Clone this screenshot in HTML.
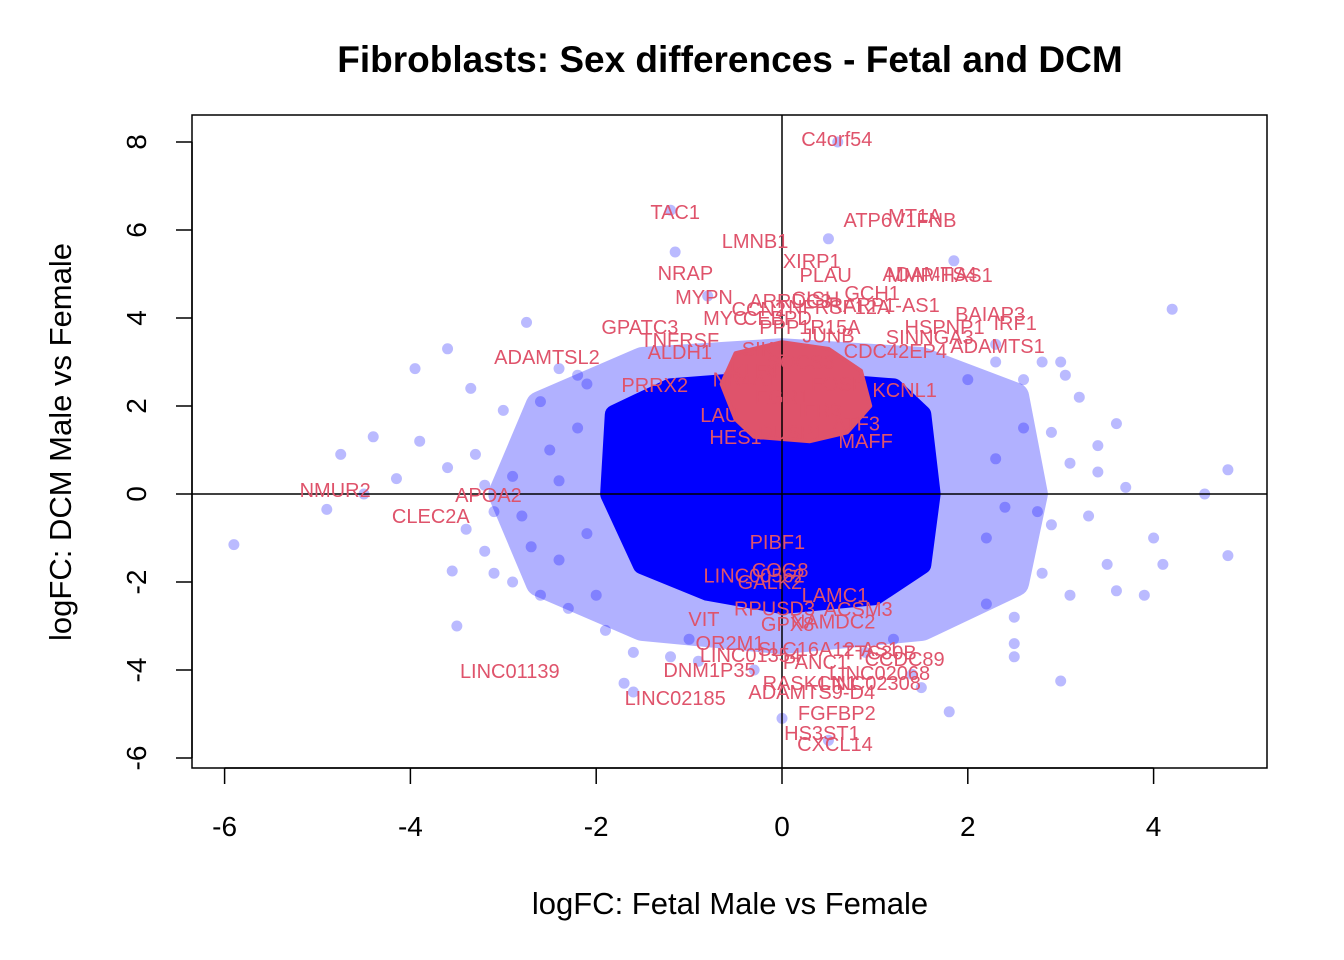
<!DOCTYPE html>
<html><head><meta charset="utf-8">
<style>
html,body{margin:0;padding:0;background:#fff;}
svg{display:block;font-family:"Liberation Sans",Arial,sans-serif;}
</style></head>
<body>
<svg id="chart" width="1344" height="960" viewBox="0 0 1344 960" xmlns="http://www.w3.org/2000/svg">
<text x="730" y="72" text-anchor="middle" font-size="37" font-weight="bold">Fibroblasts: Sex differences - Fetal and DCM</text>
<text x="730" y="914" text-anchor="middle" font-size="31">logFC: Fetal Male vs Female</text>
<text transform="translate(71,442) rotate(-90)" text-anchor="middle" font-size="31">logFC: DCM Male vs Female</text>
<g id="halo" opacity="0.3"></g>
<g id="points"></g>
<g id="core"></g>
<g id="redcore"></g>
<g id="axes"></g>
<g id="labels"></g>
<rect x="192" y="115" width="1075" height="653" fill="none" stroke="#000" stroke-width="1.5"/>
</svg>
<script>
const xTicks = [-6, -4, -2, 0, 2, 4];
const yTicks = [-6, -4, -2, 0, 2, 4, 6, 8];
const outlierX = [-5.9,-4.9,-4.75,-4.5,-4.4,-4.15,-3.95,-3.9,-3.6,-3.55,-3.5,-3.35,-3.3,-3.1,-3.0,-2.75,-2.9,-2.6,-2.4,-2.2,-2.1,-1.7,-1.6,-1.2,-1.15,-0.8,0.5,0.6,1.85,4.2,4.8,4.55,4.8,4.1,3.9,4.0,3.7,3.4,3.2,3.0,2.8,3.0,1.8,0.0,0.5,1.5,2.5,2.5,3.3,3.1,2.8,3.5,3.6,2.6,2.3,2.0,-2.0,-2.4,-2.8,-3.1,-3.4,-3.2,-2.7,-3.2,-3.6,-2.9,-2.5,-2.3,-1.9,-1.6,-1.2,-0.9,2.2,2.5,2.9,3.4,3.1,2.9,3.6,3.05,2.3,2.6,-2.2,-2.4,-2.1,2.3,2.2,2.4,1.4,-0.3,0.9,-1.0,1.2,-2.6,2.75];
const outlierY = [-1.15,-0.35,0.9,0.0,1.3,0.35,2.85,1.2,3.3,-1.75,-3.0,2.4,0.9,-1.8,1.9,3.9,-2.0,2.1,2.85,2.7,2.5,-4.3,-4.5,6.45,5.5,4.5,5.8,8.0,5.3,4.2,0.55,0.0,-1.4,-1.6,-2.3,-1.0,0.15,1.1,2.2,3.0,3.0,-4.25,-4.95,-5.1,-5.6,-4.4,-3.7,-3.4,-0.5,-2.3,-1.8,-1.6,-2.2,2.6,3.4,2.6,-2.3,-1.5,-0.5,-0.4,-0.8,-1.3,-1.2,0.2,0.6,0.4,1.0,-2.6,-3.1,-3.6,-3.7,-3.8,-2.5,-2.8,1.4,0.5,0.7,-0.7,1.6,2.7,3.0,1.5,1.5,0.3,-0.9,0.8,-1.0,-0.3,-4.1,-4.0,-3.6,-3.3,-3.3,-2.3,-0.4];
const haloX = [-2.6,-1.5,0,1.5,2.5,2.7,2.5,1.5,0,-1.5,-2.6,-3.0];
const haloY = [2.0,3.0,3.2,3.0,2.2,0,-2.0,-3.0,-3.3,-3.0,-2.0,0];
const coreX = [-1.8,-1.2,0,1.2,1.5,1.6,1.5,1.0,0,-0.8,-1.5,-1.85];
const coreY = [1.8,2.4,2.6,2.4,1.8,0,-1.6,-2.3,-2.5,-2.2,-1.6,0];
const redX = [-0.5,0,0.5,0.85,0.95,0.7,0.3,-0.3,-0.5,-0.65];
const redY = [3.2,3.45,3.3,2.8,2.0,1.4,1.2,1.3,1.7,2.5];
const labelText = ["C4orf54","TAC1","ATP6V1FNB","MT1A","LMNB1","XIRP1","NRAP","PLAU","ADAMTS4","MMP-HAS1","MYPN","GCH1","ARRDC3","CISH","TNFRSF12A","CCN2","RARP1-AS1","CEBPD","BAIAP3","IRF1","GPATC3","TNFRSF","ADAMTS1","ADAMTSL2","ALDH1","MYC","SINNGA3","HSPNP1","CDC42EP4","PRRX2","KCNL1","LAU","NMUR2","APOA2","CLEC2A","PIBF1","COG8","LINC00562","GALK2","LAMC1","RPUSD3","ACSM3","VIT","GPX8","NAMDC2","OR2M1","LINC01354","SLC16A12-AS1","PANC1","CCDC89","TTC30B","DNM1P35","LINC01139","LINC02068","RASKCN1","LINC02308","ADAMTS9-D4","LINC02185","FGFBP2","HS3ST1","CXCL14","SOCS3","KLF4","FOSB","EGR1","IER3","NR4A1","ATF3","DUSP1","JUNB","HES1","MAFF","SIK1","PPP1R15A"];
const labelX = [0.59,-1.15,1.27,1.43,-0.29,0.32,-1.04,0.47,1.59,1.7,-0.84,0.97,0.09,0.36,0.55,-0.25,1.1,-0.05,2.24,2.51,-1.53,-1.1,2.32,-2.53,-1.1,-0.61,1.59,1.75,1.22,-1.37,1.32,-0.67,-4.81,-3.16,-3.78,-0.05,-0.02,-0.3,-0.13,0.57,-0.08,0.82,-0.84,0.06,0.55,-0.56,-0.34,0.5,0.36,1.32,1.05,-0.78,-2.93,1.05,0.3,0.95,0.32,-1.15,0.59,0.43,0.57,0.2,-0.3,0.6,0.0,0.4,-0.4,0.8,0.1,0.5,-0.5,0.9,-0.2,0.3];
const labelY = [8.07,6.41,6.23,6.32,5.75,5.3,5.02,4.98,5.0,4.98,4.48,4.57,4.39,4.44,4.25,4.2,4.3,4.0,4.09,3.89,3.8,3.5,3.36,3.11,3.23,4.0,3.57,3.8,3.25,2.48,2.36,1.8,0.09,-0.02,-0.5,-1.09,-1.73,-1.85,-2.0,-2.3,-2.6,-2.61,-2.84,-2.95,-2.9,-3.39,-3.66,-3.52,-3.82,-3.75,-3.6,-4.0,-4.02,-4.07,-4.3,-4.3,-4.5,-4.64,-4.98,-5.43,-5.68,3.0,2.8,2.5,2.2,1.9,2.6,1.6,1.4,3.6,1.3,1.2,3.3,3.8];

const X0=782, XS=92.9, Y0=494, YS=44;
const sx = v => X0 + v*XS;
const sy = v => Y0 - v*YS;
const NS="http://www.w3.org/2000/svg";
function mk(tag, parent, attrs){const e=document.createElementNS(NS,tag);for(const k in attrs)e.setAttribute(k,attrs[k]);parent.appendChild(e);return e;}
function poly(g, xs, ys, fill, sw){
  const pts = xs.map((x,i)=>sx(x)+","+sy(ys[i])).join(" ");
  return mk("polygon", g, {points:pts, fill:fill, "stroke-linejoin":"round", stroke:fill, "stroke-width":sw});
}
const halo=document.getElementById("halo");
const hp=poly(halo, haloX, haloY, "#0000ff", 30);


const core=document.getElementById("core");
const cp=poly(core, coreX, coreY, "#0000ff", 20);


const pts=document.getElementById("points");
outlierX.forEach((x,i)=>{
  const c=mk("circle", pts, {cx:sx(x), cy:sy(outlierY[i]), r:5.5, fill:"#0000ff", "fill-opacity":0.27});
  
  
});
const rc=document.getElementById("redcore");
const rp=poly(rc, redX, redY, "#DF536B", 4);


const ax=document.getElementById("axes");
mk("line", ax, {x1:192,x2:1267,y1:sy(0),y2:sy(0),stroke:"#000","stroke-width":1.5});
mk("line", ax, {x1:sx(0),x2:sx(0),y1:115,y2:768,stroke:"#000","stroke-width":1.5});
mk("line", ax, {x1:sx(xTicks[0]),x2:sx(xTicks[xTicks.length-1]),y1:768,y2:768,stroke:"#000","stroke-width":1.5});
mk("line", ax, {x1:192,x2:192,y1:sy(yTicks[0]),y2:sy(yTicks[yTicks.length-1]),stroke:"#000","stroke-width":1.5});
xTicks.forEach(t=>{
  mk("line", ax, {x1:sx(t),x2:sx(t),y1:768,y2:784,stroke:"#000","stroke-width":1.5});
  const tx=mk("text", ax, {x:sx(t), y:836, "text-anchor":"middle","font-size":28});
  tx.textContent=t;
  
  
});
yTicks.forEach(t=>{
  mk("line", ax, {x1:176,x2:192,y1:sy(t),y2:sy(t),stroke:"#000","stroke-width":1.5});
  const tx=mk("text", ax, {transform:"translate(146,"+sy(t)+") rotate(-90)", "text-anchor":"middle","font-size":28});
  tx.textContent=t;
  
  
});
const lab=document.getElementById("labels");
labelText.forEach((s,i)=>{
  const t=mk("text", lab, {x:sx(labelX[i]), y:sy(labelY[i])+7, "text-anchor":"middle","font-size":20, fill:"#DF536B"});
  t.textContent=s;
  
  
});
</script>
</body></html>
